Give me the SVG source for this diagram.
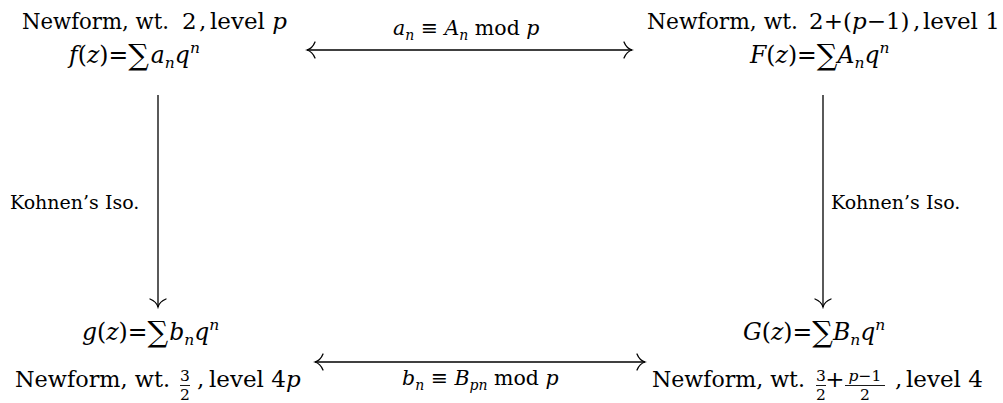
<svg xmlns="http://www.w3.org/2000/svg" width="1003" height="403" viewBox="0 0 1003 403">
<style>
.t{font-family:"DejaVu Serif","Liberation Serif",serif;font-size:20.5px;fill:#000}
.n{font-size:23px}
.m{font-size:23.5px}
.i{font-style:italic}
.s{font-size:14px}
.ms{font-size:15.5px}
.f{font-size:15.5px}
.sum{font-size:29px}
.k{font-family:"DejaVu Serif","Liberation Serif",serif;font-size:19px;fill:#000}
.c{fill:none;stroke:#000;stroke-width:1.3}
.bar{stroke:#000;stroke-width:0.9}
</style>
<defs>
<marker id="ah" viewBox="-10 -10 12 20" markerWidth="12" markerHeight="20" refX="0" refY="0" orient="auto-start-reverse" markerUnits="userSpaceOnUse">
<path d="M-8,-8 C-6,-3 -2,-0.6 0,0 C-2,0.6 -6,3 -8,8" fill="none" stroke="#000" stroke-width="1.3" stroke-linecap="round"/>
</marker>
</defs>
<rect width="1003" height="403" fill="#fff"/>

<g id="connectors">
<path class="c" d="M307,50 H632" marker-start="url(#ah)" marker-end="url(#ah)"/>
<text class="t" x="393" y="35"><tspan class="i">a</tspan><tspan class="i s" dy="5">n</tspan><tspan dy="-5"> ≡ </tspan><tspan class="i">A</tspan><tspan class="i s" dy="5">n</tspan><tspan dy="-5"> mod </tspan><tspan class="i">p</tspan></text>
<path class="c" d="M315,362 H645" marker-start="url(#ah)" marker-end="url(#ah)"/>
<text class="t" x="402" y="385"><tspan class="i">b</tspan><tspan class="i s" dy="5">n</tspan><tspan dy="-5"> ≡ </tspan><tspan class="i">B</tspan><tspan class="i s" dy="5">pn</tspan><tspan dy="-5"> mod </tspan><tspan class="i">p</tspan></text>
<path class="c" d="M158,95 V307" marker-end="url(#ah)"/>
<text class="k" x="10" y="209">Kohnen’s Iso.</text>
<path class="c" d="M823,95 V307" marker-end="url(#ah)"/>
<text class="k" x="831" y="209">Kohnen’s Iso.</text>
</g>

<g id="node-f">
<text class="t n" x="22" y="29" textLength="147" lengthAdjust="spacingAndGlyphs">Newform, wt.</text>
<text class="t n" x="182" y="29">2</text>
<text class="t n" x="199" y="29">,</text>
<text class="t n" x="210" y="29">level <tspan class="i">p</tspan></text>
<text class="t m" x="69" y="63"><tspan class="i">f</tspan>(<tspan class="i">z</tspan>)=<tspan class="sum" dy="2">∑</tspan><tspan class="i" dy="-2" dx="2">a</tspan><tspan class="i ms" dy="5">n</tspan><tspan class="i" dy="-5">q</tspan><tspan class="i ms" dy="-10">n</tspan></text>
</g>

<g id="node-F">
<text class="t n" x="647" y="29" textLength="151" lengthAdjust="spacingAndGlyphs">Newform, wt.</text>
<text class="t n" x="809" y="29">2+(<tspan class="i">p</tspan>−1)</text>
<text class="t n" x="913" y="29">,</text>
<text class="t n" x="923" y="29">level 1</text>
<text class="t m" x="750" y="63"><tspan class="i">F</tspan>(<tspan class="i">z</tspan>)=<tspan class="sum" dy="2">∑</tspan><tspan class="i" dy="-2">A</tspan><tspan class="i ms" dy="5">n</tspan><tspan class="i" dy="-5">q</tspan><tspan class="i ms" dy="-10">n</tspan></text>
</g>

<g id="node-g">
<text class="t m" x="82" y="340"><tspan class="i">g</tspan>(<tspan class="i">z</tspan>)=<tspan class="sum" dy="2">∑</tspan><tspan class="i" dy="-2" dx="1">b</tspan><tspan class="i ms" dy="5">n</tspan><tspan class="i" dy="-5">q</tspan><tspan class="i ms" dy="-10">n</tspan></text>
<text class="t n" x="15" y="387" textLength="155" lengthAdjust="spacingAndGlyphs">Newform, wt.</text>
<text class="t f" x="185" y="381" text-anchor="middle">3</text>
<line class="bar" x1="180" y1="385.5" x2="190" y2="385.5"/>
<text class="t f" x="185" y="400" text-anchor="middle">2</text>
<text class="t n" x="197" y="387">,</text>
<text class="t n" x="209" y="387">level 4<tspan class="i">p</tspan></text>
</g>

<g id="node-G">
<text class="t m" x="743" y="340"><tspan class="i">G</tspan>(<tspan class="i">z</tspan>)=<tspan class="sum" dy="2">∑</tspan><tspan class="i" dy="-2">B</tspan><tspan class="i ms" dy="5">n</tspan><tspan class="i" dy="-5">q</tspan><tspan class="i ms" dy="-10">n</tspan></text>
<text class="t n" x="652" y="387" textLength="153" lengthAdjust="spacingAndGlyphs">Newform, wt.</text>
<text class="t f" x="821" y="381" text-anchor="middle">3</text>
<line class="bar" x1="816" y1="385.5" x2="826" y2="385.5"/>
<text class="t f" x="821" y="400" text-anchor="middle">2</text>
<text class="t n" x="835" y="387" text-anchor="middle">+</text>
<text class="t f" x="865" y="381" text-anchor="middle"><tspan class="i">p</tspan>−1</text>
<line class="bar" x1="845" y1="385.5" x2="885" y2="385.5"/>
<text class="t f" x="865" y="400" text-anchor="middle">2</text>
<text class="t n" x="895" y="387">,</text>
<text class="t n" x="906" y="387">level 4</text>
</g>
</svg>
